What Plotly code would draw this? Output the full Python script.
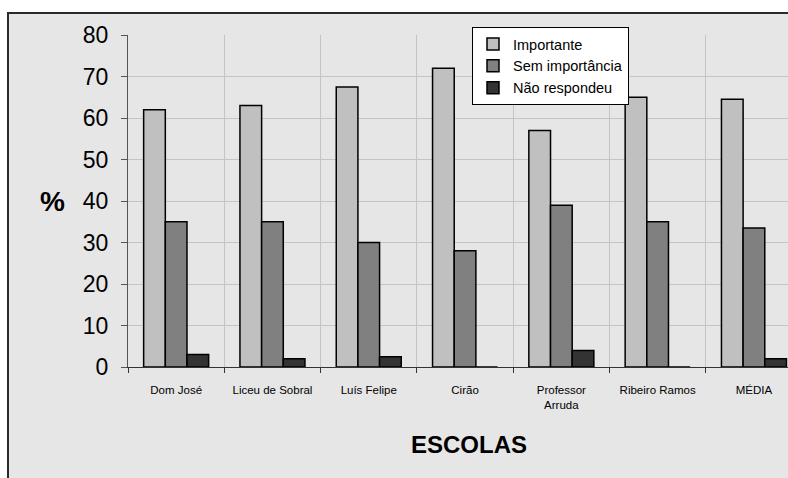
import plotly.graph_objects as go

# Survey results per school (percentages)
escolas = ["Dom José", "Liceu de Sobral", "Luís Felipe", "Cirão",
           "Professor<br>Arruda", "Ribeiro Ramos", "MÉDIA"]
importante = [62, 63, 67.5, 72, 57, 65, 64.5]
sem_importancia = [35, 35, 30, 28, 39, 35, 33.5]
nao_respondeu = [3, 2, 2.5, 0, 4, 0, 2]

series_names = ["Importante", "Sem importância", "Não respondeu"]
series_colors = ["#c0c0c0", "#808080", "#333333"]

W, H = 788, 478
L, R, T, B = 128, 0, 35, 111
plot_w = W - L - R
plot_h = H - T - B


def px_x(x):
    return (x - L) / plot_w


def px_y(y):
    return (H - B - y) / plot_h


fig = go.Figure()
for name, vals, col in zip(series_names, [importante, sem_importancia, nao_respondeu], series_colors):
    fig.add_trace(go.Bar(
        x=escolas, y=vals, name=name,
        marker=dict(color=col, line=dict(color="#000000", width=1.5)),
    ))

# Grey chart frame behind the plot
fig.add_shape(type="rect", xref="paper", yref="paper",
              x0=px_x(8), x1=px_x(820), y0=px_y(500), y1=px_y(13),
              fillcolor="#e6e6e6", line=dict(color="#2a2a2a", width=2),
              layer="below")

fig.update_layout(
    width=W, height=H,
    margin=dict(l=L, r=R, t=T, b=B),
    paper_bgcolor="#ffffff",
    plot_bgcolor="rgba(0,0,0,0)",
    barmode="group", bargap=0.325, bargroupgap=0,
    font=dict(family="Liberation Sans, Arial", color="#000000"),
    showlegend=True,
    legend=dict(x=px_x(472), y=px_y(27), xanchor="left", yanchor="top",
                bgcolor="#ffffff", bordercolor="#000000", borderwidth=1,
                font=dict(size=14.5, family="Liberation Sans, Arial"),
                tracegroupgap=0, itemwidth=30),
    xaxis=dict(
        range=[-0.5, -0.5 + plot_w / 96.3],
        tickson="boundaries", ticks="outside", ticklen=5, tickcolor="#333333",
        showgrid=True, gridcolor="#c4c4c4", gridwidth=1,
        showline=True, linecolor="#333333", linewidth=1,
        tickfont=dict(size=11.5, family="Liberation Sans Narrow, Liberation Sans, Arial"),
        ticklabelstandoff=12,
    ),
    yaxis=dict(
        range=[0, 80], dtick=10, ticks="outside", ticklen=6, tickcolor="#555555",
        showgrid=True, gridcolor="#c4c4c4", gridwidth=1,
        showline=True, linecolor="#555555", linewidth=1,
        tickfont=dict(size=23, family="Liberation Sans, Arial"),
        ticklabelstandoff=8, zeroline=False,
    ),
    annotations=[
        dict(text="<b>%</b>", xref="paper", yref="paper", x=px_x(52), y=px_y(201),
             xanchor="center", yanchor="middle",
             showarrow=False, font=dict(size=28, family="Liberation Sans, Arial")),
        dict(text="<b>ESCOLAS</b>", xref="paper", yref="paper", x=px_x(469), y=px_y(444),
             xanchor="center", yanchor="middle",
             showarrow=False, font=dict(size=24, family="Liberation Sans, Arial")),
    ],
)

fig.write_html("out.html")
